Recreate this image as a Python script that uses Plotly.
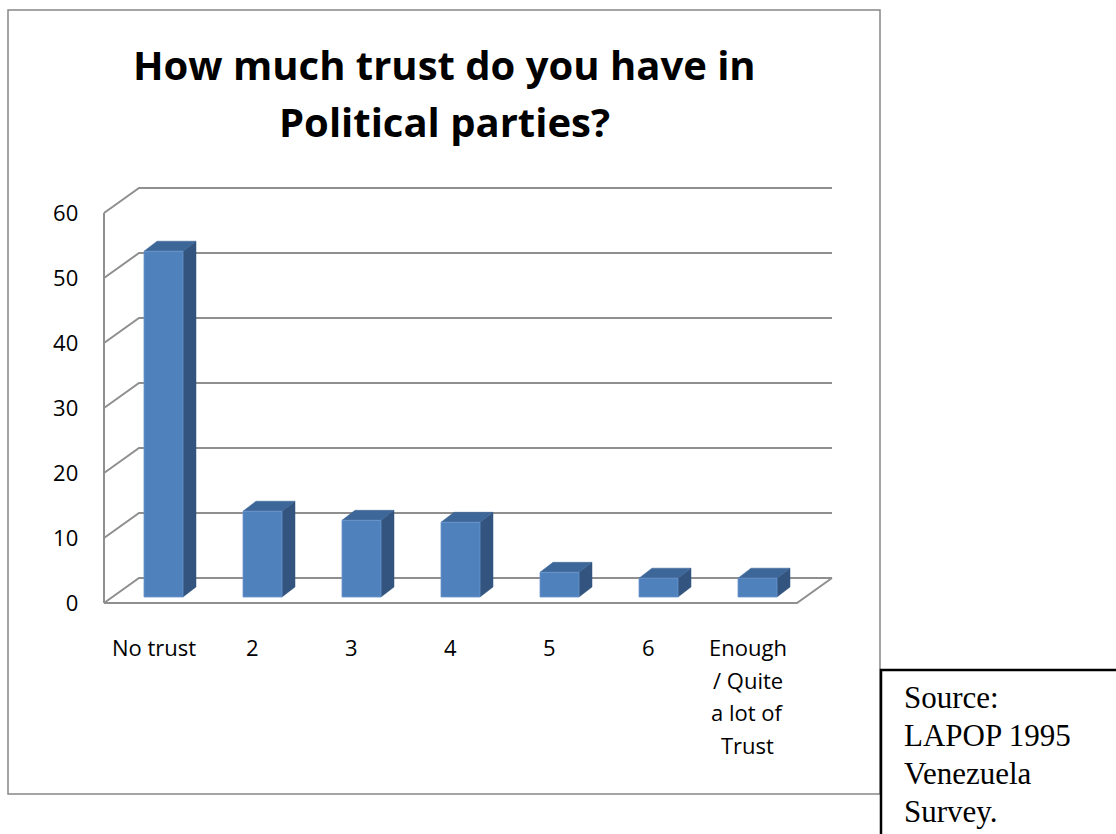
import plotly.graph_objects as go

# Survey answers (percent of respondents)
categories = ["No trust", "2", "3", "4", "5", "6", "Enough<br>/ Quite<br>a lot of<br>Trust"]
values = [53.2, 13.2, 11.8, 11.5, 3.8, 2.9, 2.9]
y_ticks = [0, 10, 20, 30, 40, 50, 60]

title_lines = ["How much trust do you have in", "Political parties?"]
source_lines = ["Source:", "LAPOP 1995", "Venezuela", "Survey."]

W, H = 1116, 834
PX_X = 99.0    # pixels per category slot
PX_Y = 6.5     # pixels per percentage point
X0_PX = 153.5  # pixel of first category centre
Y0_PX = 603.0  # pixel of the zero line on the front plane

# pseudo-3D offsets, expressed in data units
DEPTH_X = 35 / PX_X
DEPTH_Y = 25 / PX_Y
BAR_SHIFT_X = 10 / PX_X
BAR_SHIFT_Y = 6 / PX_Y
BAR_W = 39 / PX_X
BAR_DX = 13 / PX_X
BAR_DY = 10 / PX_Y

x_range = [-0.75, 7.0]
y_range = [-2.0, 66.0]

x_left_px = X0_PX + x_range[0] * PX_X
x_right_px = X0_PX + x_range[1] * PX_X
y_bottom_px = Y0_PX - y_range[0] * PX_Y
y_top_px = Y0_PX - y_range[1] * PX_Y

GRID = "#8f8f8f"
FRONT = "#4f81bd"
FRONT_EDGE = "#6a95cb"
SIDE = "#32547e"
TOP = "#3d6699"
FONT = "Open Sans, sans-serif"
SERIF = "Liberation Serif, Times New Roman, serif"

n = len(categories)
x_first, x_last = -0.5, n - 0.5

# walls and floor
gx, gy = [], []
for t in y_ticks:
    gx += [x_first, x_first + DEPTH_X, x_last + DEPTH_X, None]
    gy += [t, t + DEPTH_Y, t + DEPTH_Y, None]
gx += [x_first, x_last, x_last + DEPTH_X, None, x_first, x_first]
gy += [0, 0, DEPTH_Y, None, 0, y_ticks[-1]]

# front, side and top faces of the boxes
fx, fy, sx, sy, tx, ty = [], [], [], [], [], []
for i, v in enumerate(values):
    xl = i + BAR_SHIFT_X - BAR_W / 2
    xr = xl + BAR_W
    yb = BAR_SHIFT_Y
    yt = yb + v
    fx += [xl, xr, xr, xl, xl, None]
    fy += [yb, yb, yt, yt, yb, None]
    sx += [xr, xr + BAR_DX, xr + BAR_DX, xr, xr, None]
    sy += [yb, yb + BAR_DY, yt + BAR_DY, yt, yb, None]
    tx += [xl, xr, xr + BAR_DX, xl + BAR_DX, xl, None]
    ty += [yt, yt, yt + BAR_DY, yt + BAR_DY, yt, None]

fig = go.Figure()
fig.add_trace(go.Scatter(x=gx, y=gy, mode="lines",
                         line=dict(color=GRID, width=2), hoverinfo="skip"))
fig.add_trace(go.Scatter(x=sx, y=sy, mode="lines", fill="toself",
                         fillcolor=SIDE, line=dict(color=SIDE, width=0.5),
                         hoverinfo="skip"))
fig.add_trace(go.Scatter(x=tx, y=ty, mode="lines", fill="toself",
                         fillcolor=TOP, line=dict(color=TOP, width=0.5),
                         hoverinfo="skip"))
fig.add_trace(go.Scatter(x=fx, y=fy, mode="lines", fill="toself",
                         fillcolor=FRONT, line=dict(color=FRONT_EDGE, width=0.8),
                         hoverinfo="skip"))

annotations = []

# category labels, one annotation per text line
LABEL_TOP_PX = 647
LABEL_STEP_PX = 32.5
for i, label in enumerate(categories):
    for k, part in enumerate(label.split("<br>")):
        annotations.append(dict(
            text=part, xref="x", yref="paper", x=i,
            y=1 - (LABEL_TOP_PX + k * LABEL_STEP_PX) / H,
            xanchor="center", yanchor="middle", showarrow=False,
            font=dict(size=22, family=FONT, color="black")))

# title
for k, line in enumerate(title_lines):
    annotations.append(dict(
        text="<b>" + line + "</b>", xref="paper", yref="paper",
        x=444.5 / W, y=1 - (65 + k * 57) / H,
        xanchor="center", yanchor="middle", showarrow=False,
        font=dict(size=40, family=FONT, color="black")))

# source note
for k, line in enumerate(source_lines):
    annotations.append(dict(
        text=line, xref="paper", yref="paper",
        x=902 / W, y=1 - (697 + k * 38) / H,
        xanchor="left", yanchor="middle", showarrow=False,
        font=dict(size=31, family=SERIF, color="black")))

fig.update_layout(
    width=W, height=H,
    margin=dict(l=0, r=0, t=0, b=0),
    paper_bgcolor="white", plot_bgcolor="rgba(0,0,0,0)",
    showlegend=False,
    font=dict(family=FONT, color="black"),
    xaxis=dict(
        domain=[x_left_px / W, x_right_px / W],
        range=x_range,
        showticklabels=False,
        showgrid=False, zeroline=False, showline=False, ticks="",
    ),
    yaxis=dict(
        domain=[1 - y_bottom_px / H, 1 - y_top_px / H],
        range=y_range,
        tickmode="array", tickvals=y_ticks,
        showgrid=False, zeroline=False, showline=False, ticks="",
        tickfont=dict(size=22, family=FONT, color="black"),
    ),
    shapes=[
        dict(type="rect", xref="paper", yref="paper",
             x0=8 / W, x1=880 / W, y0=1 - 794 / H, y1=1 - 10 / H,
             line=dict(color="#878787", width=1.5), layer="below"),
        dict(type="rect", xref="paper", yref="paper",
             x0=881 / W, x1=1.02, y0=-0.02, y1=1 - 670 / H,
             fillcolor="white", line=dict(color="black", width=2.5)),
    ],
    annotations=annotations,
)

fig.write_html("out.html")
